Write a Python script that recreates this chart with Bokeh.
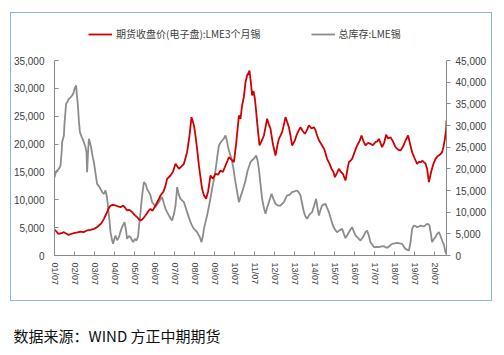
from bokeh.plotting import figure
from bokeh.models import (Range1d, LinearAxis, FixedTicker, NumeralTickFormatter,
                          Legend, LegendItem, Title, InlineStyleSheet)
from bokeh.embed import file_html
from bokeh.resources import INLINE

# ---- data (decimal years) ----
price_t = [2001.50, 2001.55, 2001.70, 2001.85, 2001.97, 2002.10, 2002.20, 2002.35, 2002.47, 2002.65,
           2002.80, 2002.95, 2003.13, 2003.30, 2003.47, 2003.60, 2003.72, 2003.85, 2003.97, 2004.05,
           2004.13, 2004.20, 2004.27, 2004.40, 2004.55, 2004.68, 2004.80, 2004.93, 2005.05, 2005.13,
           2005.25, 2005.38, 2005.50, 2005.63, 2005.72, 2005.80, 2005.90, 2006.05, 2006.20, 2006.30,
           2006.40, 2006.55, 2006.70, 2006.80, 2006.95, 2007.05, 2007.13, 2007.30, 2007.42, 2007.55,
           2007.72, 2007.85, 2007.97, 2008.05, 2008.13, 2008.25, 2008.35, 2008.42, 2008.47, 2008.53,
           2008.58, 2008.65, 2008.72, 2008.80, 2008.88, 2008.97, 2009.08, 2009.18, 2009.30, 2009.42,
           2009.55, 2009.68, 2009.80, 2009.92, 2010.05, 2010.15, 2010.22, 2010.35, 2010.47, 2010.58,
           2010.72, 2010.80, 2010.88, 2010.97, 2011.05, 2011.13, 2011.22, 2011.25, 2011.32, 2011.38,
           2011.45, 2011.52, 2011.58, 2011.63, 2011.70, 2011.75, 2011.85, 2011.97, 2012.05, 2012.13,
           2012.22, 2012.30, 2012.42, 2012.55, 2012.63, 2012.72, 2012.80, 2012.88, 2012.97, 2013.05,
           2013.13, 2013.22, 2013.30, 2013.38, 2013.50, 2013.63, 2013.72, 2013.80, 2013.92, 2014.02,
           2014.12, 2014.22, 2014.35, 2014.47, 2014.55, 2014.63, 2014.75, 2014.88, 2015.00, 2015.13,
           2015.25, 2015.35, 2015.45, 2015.52, 2015.62, 2015.72, 2015.82, 2015.92, 2016.05, 2016.15,
           2016.22, 2016.30, 2016.38, 2016.50, 2016.63, 2016.75, 2016.85, 2016.95, 2017.05, 2017.18,
           2017.30, 2017.42, 2017.55, 2017.65, 2017.72, 2017.80, 2017.88, 2017.98, 2018.08, 2018.18,
           2018.30, 2018.42, 2018.55, 2018.68, 2018.80, 2018.92, 2019.05, 2019.18, 2019.28, 2019.38,
           2019.50, 2019.63, 2019.72, 2019.80, 2019.90, 2019.97, 2020.05, 2020.13, 2020.22, 2020.30,
           2020.35, 2020.45, 2020.55, 2020.65, 2020.72, 2020.80, 2020.88, 2020.95, 2021.02, 2021.08,
           2021.10]
price = [4600, 4490, 3890, 4000, 4190, 3900, 3710, 3900, 4000, 4150,
         4300, 4200, 4490, 4600, 4790, 5000, 5385, 5800, 6580, 7180,
         7780, 8400, 8850, 9100, 8975, 8800, 8680, 8975, 8500, 8080,
         8200, 7780, 7300, 6880, 6500, 6280, 6500, 7180, 8000, 8380,
         8000, 9000, 10000, 10770, 11500, 12500, 13770, 14360, 15000, 16460,
         15560, 16000, 16460, 17500, 18540, 21500, 24830, 24000, 23340, 22000,
         20640, 18500, 16160, 14000, 11970, 10800, 10170, 11500, 14360, 13800,
         14660, 14500, 15260, 15000, 16160, 17000, 17640, 17200, 16750, 20000,
         25130, 24500, 26930, 28500, 31110, 32310, 32900, 33200, 31000, 28720,
         29500, 28130, 26000, 23930, 21500, 19750, 20500, 21540, 23000, 24540,
         23500, 22740, 20000, 17950, 19500, 20940, 21500, 22140, 23500, 24830,
         24000, 23030, 21500, 19750, 20500, 21840, 22500, 23030, 22300, 21840,
         22500, 23340, 22800, 23030, 22500, 21540, 20500, 19750, 19000, 17350,
         16500, 15560, 15000, 14060, 14800, 15560, 15000, 14660, 13460, 15500,
         16750, 17000, 17350, 18500, 19750, 20500, 21540, 20500, 19750, 20200,
         20050, 19800, 20340, 20500, 20940, 20200, 19450, 20200, 21670, 21000,
         21240, 20500, 19450, 19000, 18850, 19500, 20640, 21540, 20000, 18540,
         17500, 16460, 16800, 16750, 17000, 16750, 16500, 15560, 13160, 14500,
         15260, 16500, 17350, 17800, 17950, 18200, 18540, 19500, 20940, 22500,
         24230]

stock_t = [2001.50, 2001.55, 2001.63, 2001.72, 2001.80, 2001.86, 2001.88, 2001.97, 2002.00, 2002.08,
           2002.15, 2002.22, 2002.30, 2002.38, 2002.45, 2002.50, 2002.58, 2002.62, 2002.67, 2002.72,
           2002.77, 2002.85, 2002.97, 2003.05, 2003.10, 2003.13, 2003.18, 2003.22, 2003.28, 2003.33,
           2003.40, 2003.47, 2003.55, 2003.63, 2003.72, 2003.80, 2003.90, 2003.97, 2004.05, 2004.12,
           2004.17, 2004.25, 2004.30, 2004.38, 2004.43, 2004.50, 2004.55, 2004.63, 2004.72, 2004.80,
           2004.88, 2005.00, 2005.07, 2005.13, 2005.22, 2005.30, 2005.38, 2005.43, 2005.52, 2005.60,
           2005.68, 2005.72, 2005.78, 2005.83, 2005.90, 2005.97, 2006.05, 2006.13, 2006.22, 2006.30,
           2006.38, 2006.47, 2006.55, 2006.63, 2006.72, 2006.80, 2006.88, 2006.97, 2007.05, 2007.13,
           2007.22, 2007.30, 2007.38, 2007.47, 2007.55, 2007.60, 2007.63, 2007.72, 2007.80, 2007.88,
           2007.97, 2008.05, 2008.13, 2008.22, 2008.30, 2008.38, 2008.47, 2008.55, 2008.63, 2008.70,
           2008.77, 2008.85, 2008.92, 2008.97, 2009.05, 2009.13, 2009.25, 2009.38, 2009.47, 2009.55,
           2009.63, 2009.72, 2009.80, 2009.88, 2009.97, 2010.05, 2010.12, 2010.18, 2010.27, 2010.35,
           2010.45, 2010.52, 2010.62, 2010.72, 2010.80, 2010.88, 2010.97, 2011.05, 2011.15, 2011.30,
           2011.38, 2011.47, 2011.58, 2011.65, 2011.72, 2011.80, 2011.88, 2011.97, 2012.05, 2012.13,
           2012.22, 2012.35, 2012.45, 2012.55, 2012.68, 2012.80, 2012.97, 2013.13, 2013.25, 2013.38,
           2013.50, 2013.63, 2013.72, 2013.80, 2013.88, 2013.97, 2014.05, 2014.13, 2014.25, 2014.38,
           2014.48, 2014.58, 2014.65, 2014.72, 2014.80, 2014.88, 2014.97, 2015.05, 2015.13, 2015.22,
           2015.32, 2015.42, 2015.52, 2015.63, 2015.75, 2015.88, 2015.97, 2016.05, 2016.15, 2016.22,
           2016.30, 2016.38, 2016.47, 2016.55, 2016.68, 2016.80, 2016.92, 2017.05, 2017.13, 2017.22,
           2017.30, 2017.40, 2017.47, 2017.60, 2017.72, 2017.85, 2017.97, 2018.05, 2018.13, 2018.25,
           2018.38, 2018.50, 2018.63, 2018.75, 2018.88, 2018.97, 2019.05, 2019.15, 2019.22, 2019.30,
           2019.38, 2019.47, 2019.55, 2019.63, 2019.72, 2019.80, 2019.90, 2019.97, 2020.05, 2020.13,
           2020.20, 2020.25, 2020.32, 2020.38, 2020.47, 2020.55, 2020.63, 2020.72, 2020.80, 2020.88,
           2020.97, 2021.05, 2021.10]
stock = [18000, 19000, 19600, 20000, 20770, 24000, 26150, 27700, 30400, 35000,
         35500, 36160, 36500, 36930, 37500, 38470, 39240, 37000, 34620, 31000,
         28460, 27500, 26150, 25000, 23840, 19230, 24000, 26930, 26000, 25000,
         23000, 21540, 19000, 16540, 16000, 15390, 14500, 14240, 15000, 13500,
         11540, 8000, 5380, 3500, 2690, 4000, 4620, 3500, 4230, 5500,
         6540, 7690, 6000, 3850, 4500, 4230, 3500, 3080, 3800, 3460,
         4500, 6540, 9000, 11540, 14500, 16920, 16540, 15390, 14620, 13850,
         12310, 11800, 11150, 11800, 12310, 13000, 13460, 12000, 10770, 10000,
         9230, 8600, 8080, 9500, 11540, 14000, 15770, 14000, 13080, 12700,
         12310, 11200, 10000, 8800, 7690, 6900, 6150, 5800, 5380, 4800,
         4230, 3080, 4500, 6150, 7700, 9230, 12000, 15390, 17500, 19620,
         22500, 25380, 26000, 26540, 27000, 27700, 26500, 25000, 23500, 22310,
         20000, 17690, 15000, 12310, 13500, 14620, 16000, 17310, 19500, 21540,
         22000, 22310, 23080, 22000, 20000, 16500, 13080, 11000, 9620, 11000,
         12310, 14230, 13000, 11920, 11500, 11540, 12310, 13850, 14000, 14620,
         14800, 15000, 14500, 13850, 12000, 10000, 9000, 8460, 9500, 10000,
         11500, 13080, 11000, 9230, 10500, 11540, 11800, 11920, 11000, 10000,
         8500, 6920, 6000, 5380, 5800, 6150, 5000, 4000, 4800, 5380,
         6000, 6540, 5500, 4620, 4000, 3460, 4200, 5380, 5770, 4500,
         3080, 2400, 1920, 2000, 1920, 2100, 2150, 1900, 1770, 2200,
         2690, 2800, 2920, 2800, 2690, 2000, 1540, 1300, 1150, 3000,
         6150, 6920, 6800, 6540, 6700, 6920, 6800, 6700, 7000, 7310,
         7200, 6920, 5000, 3080, 3800, 4230, 5000, 5380, 4500, 3460,
         2500, 770, 300]

tick_labels = ["01/07", "02/07", "03/07", "04/07", "05/07", "06/07", "07/07", "08/07", "09/07", "10/07",
               "11/07", "12/07", "13/07", "14/07", "15/07", "16/07", "17/07", "18/07", "19/07", "20/07"]
left_ticks = [0, 5000, 10000, 15000, 20000, 25000, 30000, 35000]
right_ticks = [0, 5000, 10000, 15000, 20000, 25000, 30000, 35000, 40000, 45000]
price_name = "期货收盘价(电子盘):LME3个月锡"
stock_name = "总库存:LME锡"
source_text = "数据来源：WIND  方正中期期货"

RED = "#D00000"
GRAY = "#8C8C8C"
AXIS = "#8A8A8A"
TXT = "#404040"
NUM_FONT = "Liberation Sans"
CJK_FONT = "Noto Sans CJK SC"

# layout: frame runs from y=20 (room for the legend) to y=255; the axes stop at
# their top tick (y=60), so the value ranges are stretched to that taller frame
FRAME_TOP, AXIS_TOP, FRAME_BOTTOM = 20, 60, 255
stretch = (FRAME_BOTTOM - FRAME_TOP) / (FRAME_BOTTOM - AXIS_TOP)
left_max, right_max = left_ticks[-1], right_ticks[-1]

box_css = InlineStyleSheet(css="""
:host::after {
  content: "";
  position: absolute;
  left: 10px; top: 12px; width: 480px; height: 287px;
  border: 1px solid #8DB3E2;
  pointer-events: none;
}
""")

p = figure(width=504, height=355, output_backend="svg", toolbar_location=None,
           x_range=Range1d(2001.5, 2021.1), y_range=Range1d(0, left_max * stretch),
           min_border_left=54, min_border_right=58, min_border_top=FRAME_TOP,
           min_border_bottom=355 - FRAME_BOTTOM,
           background_fill_color="white", border_fill_color="white",
           stylesheets=[box_css])
p.outline_line_color = None
p.xgrid.visible = False
p.ygrid.visible = False
p.extra_y_ranges = {"stock": Range1d(0, right_max * stretch)}

r_stock = p.line(stock_t, stock, y_range_name="stock", line_color=GRAY, line_width=1.8)
r_price = p.line(price_t, price, line_color=RED, line_width=1.8)

# bottom axis
xa = p.xaxis[0]
xticks = [2001.5 + i for i in range(len(tick_labels))]
xa.ticker = FixedTicker(ticks=xticks)
xa.major_label_overrides = {t: lab for t, lab in zip(xticks, tick_labels)}
xa.major_label_orientation = "vertical"
xa.major_tick_in = 4
xa.major_tick_out = 0
xa.minor_tick_line_color = None
xa.axis_line_color = AXIS
xa.major_tick_line_color = AXIS
xa.major_label_text_font = NUM_FONT
xa.major_label_text_font_size = "9px"
xa.major_label_text_color = TXT
xa.major_label_standoff = 7

# left axis
ya = p.yaxis[0]
ya.ticker = FixedTicker(ticks=left_ticks)
ya.formatter = NumeralTickFormatter(format="0,0")
ya.bounds = (0, left_max)
ya.major_tick_in = 4
ya.major_tick_out = 0
ya.minor_tick_line_color = None
ya.axis_line_color = AXIS
ya.major_tick_line_color = AXIS
ya.major_label_text_font = NUM_FONT
ya.major_label_text_font_size = "10px"
ya.major_label_text_color = TXT
ya.major_label_standoff = 10

# right axis
ra = LinearAxis(y_range_name="stock", ticker=FixedTicker(ticks=right_ticks),
                formatter=NumeralTickFormatter(format="0,0"), bounds=(0, right_max))
ra.major_tick_in = 0
ra.major_tick_out = 4
ra.minor_tick_line_color = None
ra.axis_line_color = AXIS
ra.major_tick_line_color = AXIS
ra.major_label_text_font = NUM_FONT
ra.major_label_text_font_size = "10px"
ra.major_label_text_color = TXT
ra.major_label_standoff = 5
p.add_layout(ra, "right")

legend = Legend(items=[LegendItem(label=price_name, renderers=[r_price]),
                       LegendItem(label=stock_name, renderers=[r_stock])],
                orientation="horizontal", location=(34, 214),
                glyph_width=24, glyph_height=10, label_height=10, label_standoff=4,
                spacing=50, padding=0, margin=0,
                border_line_color=None, background_fill_alpha=0,
                label_text_font=CJK_FONT, label_text_font_size="10px", label_text_color=TXT)
p.add_layout(legend, "center")

# blank spacer between the axis and the source note
spacer = Title(text=" ", text_font_size="1px", standoff=27)
p.add_layout(spacer, "below")
src = Title(text=source_text, align="left", offset=-41, standoff=8,
            text_font=CJK_FONT, text_font_size="15px", text_font_style="normal",
            text_color="#111111")
p.add_layout(src, "below")

open("out.html", "w").write(file_html(p, INLINE))
